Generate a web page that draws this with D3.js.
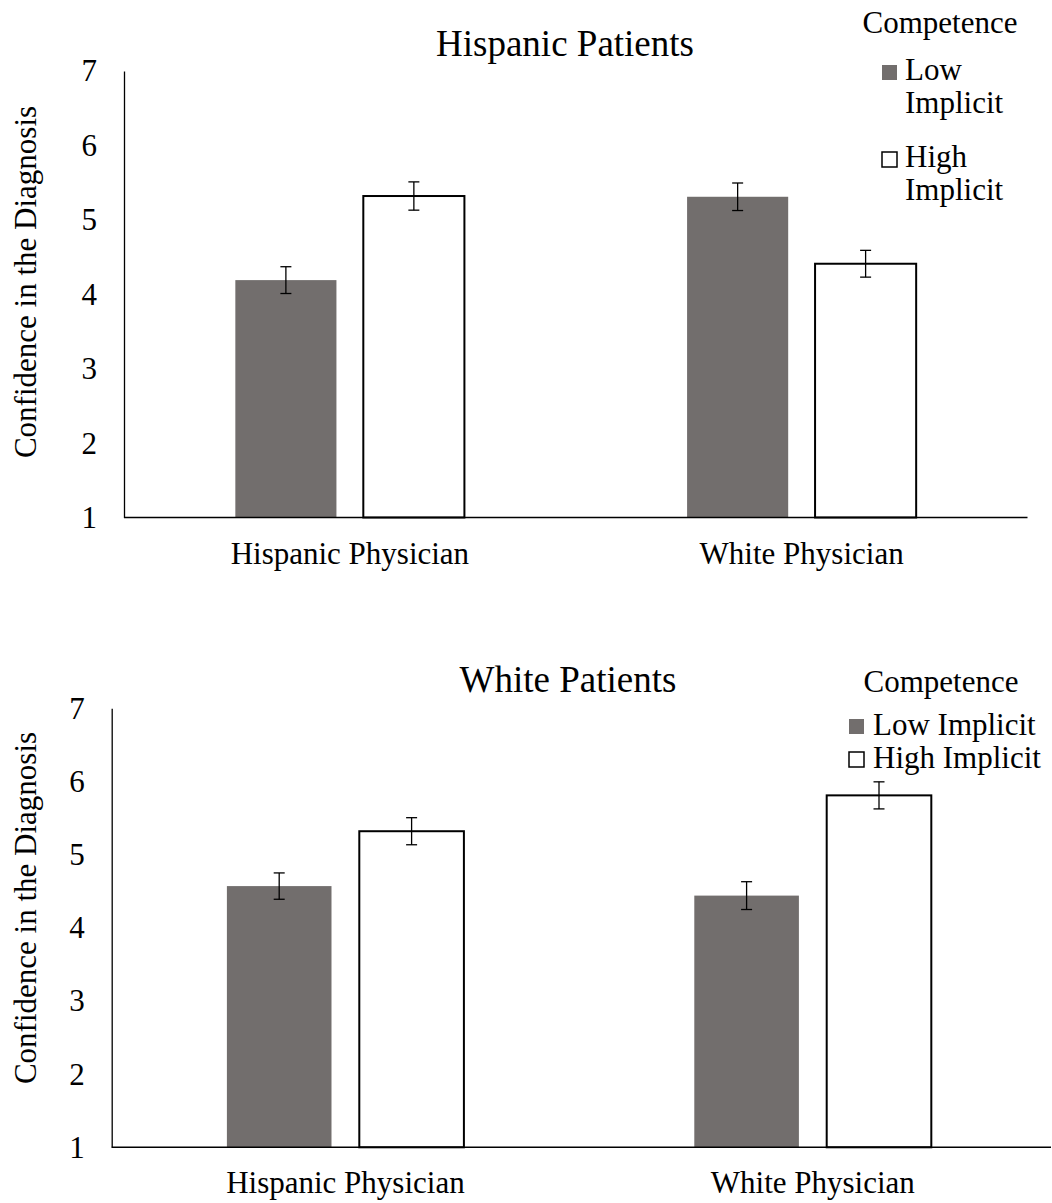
<!DOCTYPE html>
<html>
<head>
<meta charset="utf-8">
<script src="https://cdn.jsdelivr.net/npm/d3@7"></script>
<style>
  html, body { margin: 0; padding: 0; background: #fff; }
  svg { display: block; }
  svg text { font-family: "Liberation Serif", serif !important; }
</style>
</head>
<body>
<svg id="chart" width="1052" height="1203"></svg>
<script>
// ---- data ----
const categories = ["Hispanic Physician", "White Physician"];
const seriesNames = ["Low Implicit", "High Implicit"];
const yTicks = [1, 2, 3, 4, 5, 6, 7];

const hispanicLow = [4.19, 5.31];
const hispanicHigh = [5.32, 4.41];
const hispanicLowErr = [0.18, 0.185];
const hispanicHighErr = [0.19, 0.18];

const whiteLow = [4.57, 4.44];
const whiteHigh = [5.32, 5.81];
const whiteLowErr = [0.18, 0.19];
const whiteHighErr = [0.185, 0.185];

const legendTitle = "Competence";
const yTitle = "Confidence in the Diagnosis";

// ---- style ----
const grayFill = "#726e6d";
const fontSize = 31;

const svg = d3.select("#chart");

function txt(sel, size) {
  return sel.attr("font-family", "Liberation Serif, serif")
    .attr("font-size", size).attr("fill", "#000");
}

function drawPanel(opt) {
  const g = svg.append("g").attr("font-family", "Liberation Serif, serif");
  const y = d3.scaleLinear().domain([1, 7]).range([opt.bottom, opt.top]);
  const x0 = d3.scaleBand().domain(categories).range([opt.left, opt.right]).paddingInner(0).paddingOuter(0);
  const x1 = d3.scaleBand().domain(seriesNames).range([0, x0.bandwidth()]).paddingInner(0.21).paddingOuter(0.87);

  const series = [
    { name: seriesNames[0], values: opt.low, errs: opt.lowErr },
    { name: seriesNames[1], values: opt.high, errs: opt.highErr }
  ];

  series.forEach((s, si) => {
    g.selectAll(null).data(categories).enter().append("rect")
      .attr("x", (c) => x0(c) + x1(s.name))
      .attr("width", x1.bandwidth())
      .attr("y", (c, i) => y(s.values[i]))
      .attr("height", (c, i) => y(1) - y(s.values[i]))
      .attr("fill", si === 0 ? grayFill : "#fff")
      .attr("stroke", si === 0 ? "none" : "#000")
      .attr("stroke-width", 2);
  });

  const capW = 11;
  series.forEach((s) => {
    categories.forEach((c, i) => {
      const cx = x0(c) + x1(s.name) + x1.bandwidth() / 2;
      const yt = y(s.values[i] + s.errs[i]);
      const yb = y(s.values[i] - s.errs[i]);
      g.append("line").attr("x1", cx).attr("x2", cx).attr("y1", yt).attr("y2", yb)
        .attr("stroke", "#000").attr("stroke-width", 1.3);
      g.append("line").attr("x1", cx - capW / 2).attr("x2", cx + capW / 2).attr("y1", yt).attr("y2", yt)
        .attr("stroke", "#000").attr("stroke-width", 1.3);
      g.append("line").attr("x1", cx - capW / 2).attr("x2", cx + capW / 2).attr("y1", yb).attr("y2", yb)
        .attr("stroke", "#000").attr("stroke-width", 1.3);
    });
  });

  const ya = g.append("g").attr("transform", `translate(${opt.left},0)`)
    .call(d3.axisLeft(y).tickValues(yTicks).tickFormat(d3.format("d")).tickSize(0).tickSizeOuter(0).tickPadding(27));
  ya.attr("font-family", "Liberation Serif, serif").attr("font-size", fontSize);
  ya.select(".domain").attr("stroke", "#000").attr("stroke-width", 1.3);
  txt(ya.selectAll("text"), fontSize);

  const xa = g.append("g").attr("transform", `translate(0,${opt.bottom})`)
    .call(d3.axisBottom(x0).tickSize(0).tickSizeOuter(0));
  xa.attr("font-family", "Liberation Serif, serif").attr("font-size", fontSize);
  xa.select(".domain").attr("d", `M${opt.left},0H${opt.axisEnd}`)
    .attr("stroke", "#000").attr("stroke-width", 1.5);
  txt(xa.selectAll("text").attr("y", 46).attr("dy", 0), fontSize);

  txt(g.append("text").attr("x", opt.titleX).attr("y", opt.titleY)
    .attr("text-anchor", "middle").text(opt.title), 37);

  txt(g.append("text").attr("transform", `translate(36,${opt.yTitleY}) rotate(-90)`)
    .attr("text-anchor", "middle").text(yTitle), fontSize);

  txt(g.append("text").attr("x", opt.legTitleX).attr("y", opt.legTitleY)
    .attr("text-anchor", "middle").text(legendTitle), fontSize);
  opt.legend.forEach((it, i) => {
    g.append("rect").attr("x", it.sx).attr("y", it.sy).attr("width", 15).attr("height", 15)
      .attr("fill", i === 0 ? grayFill : "#fff")
      .attr("stroke", i === 0 ? "none" : "#000").attr("stroke-width", 1.5);
    it.lines.forEach((ln, j) => {
      txt(g.append("text").attr("x", it.tx).attr("y", it.ty + j * 33).text(ln), fontSize);
    });
  });
}

drawPanel({
  top: 71, bottom: 517.5, left: 124, right: 1027.5, axisEnd: 1027.5,
  low: hispanicLow, high: hispanicHigh, lowErr: hispanicLowErr, highErr: hispanicHighErr,
  title: "Hispanic Patients", titleX: 565, titleY: 56,
  yTitleY: 282,
  legTitleX: 940, legTitleY: 33,
  legend: [
    { sx: 882, sy: 65, tx: 905, ty: 80, lines: ["Low", "Implicit"] },
    { sx: 882, sy: 152, tx: 905, ty: 167, lines: ["High", "Implicit"] }
  ]
});

drawPanel({
  top: 708.3, bottom: 1147.3, left: 111.7, right: 1046.5, axisEnd: 1051,
  low: whiteLow, high: whiteHigh, lowErr: whiteLowErr, highErr: whiteHighErr,
  title: "White Patients", titleX: 568, titleY: 692,
  yTitleY: 908,
  legTitleX: 941, legTitleY: 692,
  legend: [
    { sx: 849, sy: 719, tx: 873, ty: 735, lines: ["Low Implicit"] },
    { sx: 849, sy: 752, tx: 873, ty: 768, lines: ["High Implicit"] }
  ]
});
</script>
</body>
</html>
